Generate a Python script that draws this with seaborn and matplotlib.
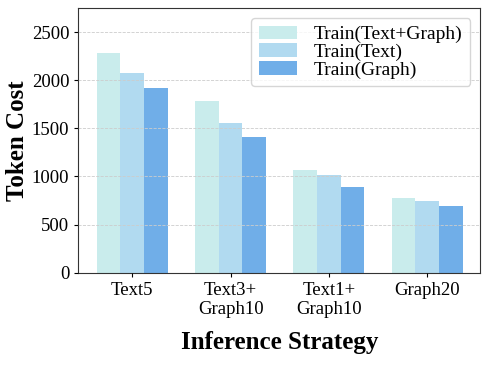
import pandas as pd
import matplotlib
matplotlib.use('Agg')
import matplotlib.pyplot as plt
import seaborn as sns

# Data
strategies = ['Text5', 'Text3+\nGraph10', 'Text1+\nGraph10', 'Graph20']
series_names = ['Train(Text+Graph)', 'Train(Text)', 'Train(Graph)']
cost_text_graph = [2285, 1780, 1068, 775]
cost_text = [2078, 1560, 1020, 740]
cost_graph = [1915, 1415, 886, 692]
colors = ['#c9ecec', '#b1daf0', '#70aee8']

df = pd.DataFrame({
    'strategy': strategies * 3,
    'series': [s for s in series_names for _ in strategies],
    'cost': cost_text_graph + cost_text + cost_graph,
})

sns.set_style('white')
plt.rcParams['font.family'] = ['Liberation Serif', 'DejaVu Serif']
plt.rcParams['text.color'] = 'black'
plt.rcParams['axes.labelcolor'] = 'black'
plt.rcParams['xtick.color'] = 'black'
plt.rcParams['ytick.color'] = 'black'

fig, ax = plt.subplots(figsize=(4.89, 3.66), dpi=100)
sns.barplot(data=df, x='strategy', y='cost', hue='series', palette=colors,
            width=0.72, saturation=1, ax=ax, errorbar=None, linewidth=0)

ax.set_ylim(0, 2750)
ax.set_xlim(-0.55, 3.54)
ax.set_yticks([0, 500, 1000, 1500, 2000, 2500])
ax.yaxis.grid(True, linestyle='--', color='#cccccc', linewidth=0.6)
ax.set_axisbelow(False)
for bar in ax.patches:
    bar.set_zorder(1)
    bar.set_edgecolor('none')

ax.set_xlabel('Inference Strategy', fontsize=18, fontweight='bold', labelpad=9)
ax.set_ylabel('Token Cost', fontsize=18, fontweight='bold', labelpad=2)
ax.tick_params(axis='both', labelsize=13.5, length=3, direction='out', left=True, bottom=True)
for s in ax.spines.values():
    s.set_color('#333333')
    s.set_linewidth(0.8)

ax.legend(loc='upper right', fontsize=14, frameon=True, handlelength=2.0,
          handleheight=0.7, labelspacing=0.0, borderpad=0.4, handletextpad=0.85,
          borderaxespad=0.5)

fig.subplots_adjust(left=0.16, right=0.982, top=0.978, bottom=0.255)
fig.savefig('out.png', dpi=100)
